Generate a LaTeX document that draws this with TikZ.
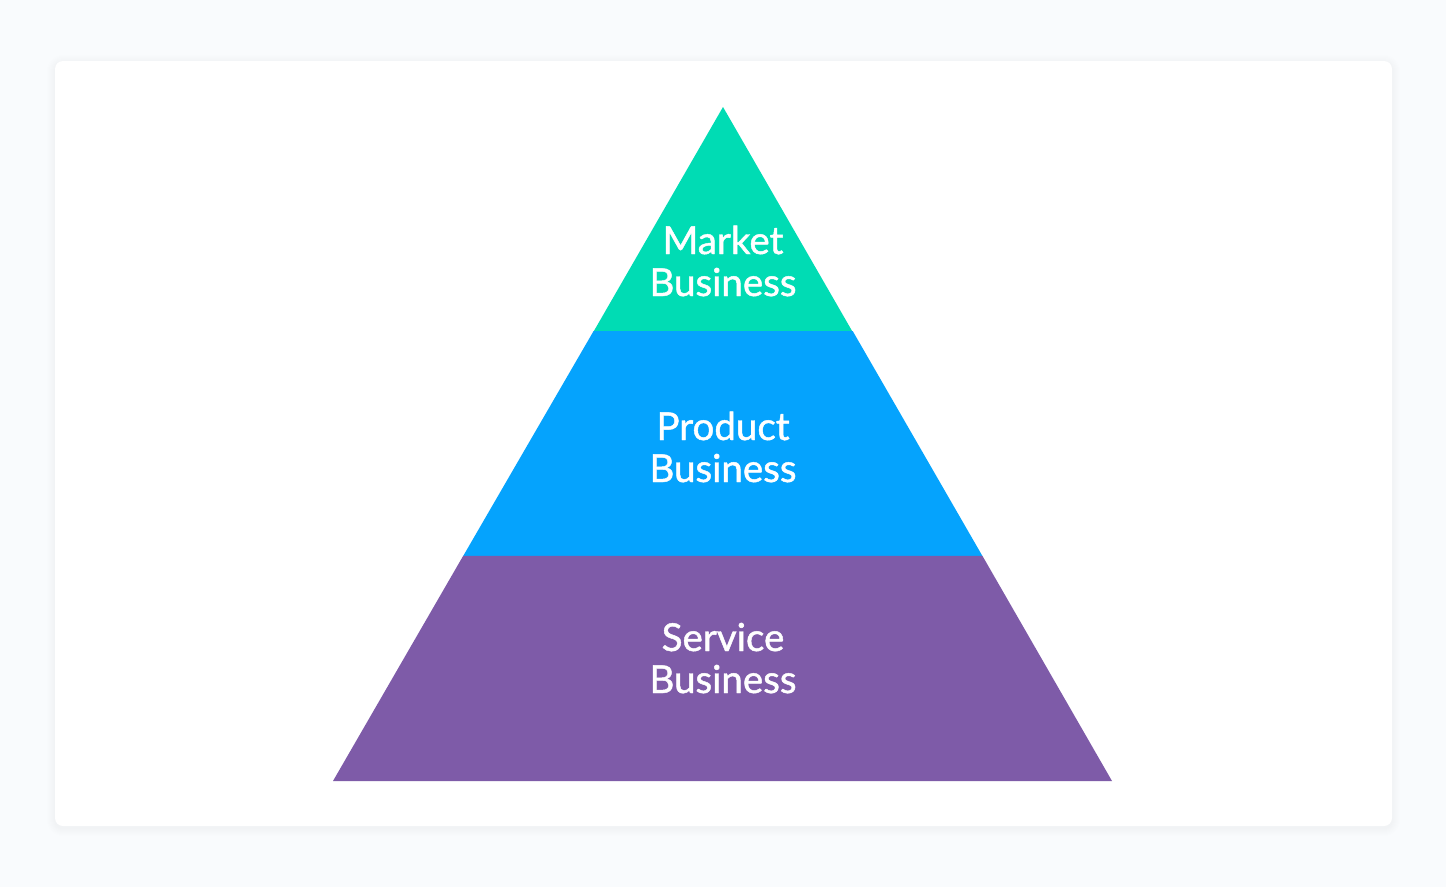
\documentclass[tikz,border=0pt]{standalone}
\usepackage{fontspec}
\setmainfont{Lato}
\newfontfamily\lblfont{Lato}[FakeBold=1.2]
\definecolor{bgc}{HTML}{F9FBFD}
\definecolor{mkt}{HTML}{00DCB4}
\definecolor{prd}{HTML}{05A3FD}
\definecolor{srv}{HTML}{7E5BA8}
\begin{document}
\begin{tikzpicture}[x=1pt,y=-1pt,
  lbl/.style={text=white,align=center,font=\lblfont\fontsize{38.5}{42}\selectfont,inner sep=0pt}]
\fill[bgc] (0,0) rectangle (1446,887);
\useasboundingbox (0,0) rectangle (1446,887);
\foreach \i in {1,...,8}{
  \fill[black,opacity=0.005,rounded corners=8pt+\i pt] (55-\i,61-\i+2) rectangle (1392+\i,826+\i+2);
}
\fill[white,rounded corners=8pt] (55,61) rectangle (1392,826);
\coordinate (apex) at (723,107);
\coordinate (bl) at (333,781);
\coordinate (br) at (1112,781);
\fill[mkt] (apex) -- (593.5,331.7) -- (852.5,331.7) -- cycle;
\fill[prd] (593.5,331.2) -- (463,556.3) -- (982.6,556.3) -- (852.8,331.2) -- cycle;
\fill[srv] (463.2,555.8) -- (bl) -- (br) -- (982.4,555.8) -- cycle;
\node[lbl,anchor=base] (m) at (723,296) {Market\\Business};
\node[lbl,anchor=base] (p) at (723,482) {Product\\Business};
\node[lbl,anchor=base] (s) at (723,693) {Service\\Business};
\end{tikzpicture}
\end{document}
